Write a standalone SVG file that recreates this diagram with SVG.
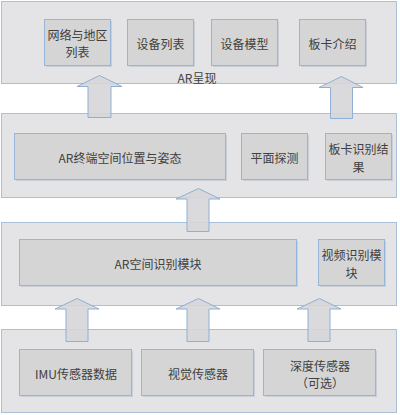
<svg xmlns="http://www.w3.org/2000/svg" width="400" height="415" viewBox="0 0 400 415">
<style>
.panel{fill:#e4e4e6;stroke:#a9c0da;stroke-width:1}
.box{fill:#d5d5d5;stroke:#95b5d9;stroke-width:1}
.shadow{fill:#c9cfd8}
.arrow{fill:#d6d6d8;fill-opacity:0.9;stroke:#8fb0d6;stroke-width:1}
text{font-family:"Noto Sans CJK SC","Liberation Sans",sans-serif;font-size:12px;fill:#404040;text-anchor:middle;dominant-baseline:central}
</style>
<rect width="400" height="415" fill="#ffffff"/>
<g id="panel-ar">
<rect class="panel" x="1.5" y="1.5" width="395" height="82"/>
<text x="197" y="77">AR呈现</text>
</g>
<g id="panel-pose">
<rect class="panel" x="1.5" y="113.5" width="395" height="84"/>
</g>
<g id="panel-recog">
<rect class="panel" x="1.5" y="222.5" width="395" height="83"/>
</g>
<g id="panel-sensor">
<rect class="panel" x="1.5" y="329.5" width="395" height="83"/>
</g>
<g id="n-region">
<rect class="shadow" x="46" y="21" width="66" height="46"/>
<rect class="box" x="44.5" y="19.5" width="66" height="46"/>
<text x="77.5" y="34">网络与地区</text>
<text x="77.5" y="51">列表</text>
</g>
<g id="n-devlist">
<rect class="shadow" x="129" y="21" width="66" height="46"/>
<rect class="box" x="127.5" y="19.5" width="66" height="46"/>
<text x="160.5" y="43">设备列表</text>
</g>
<g id="n-devmodel">
<rect class="shadow" x="213" y="21" width="66" height="46"/>
<rect class="box" x="211.5" y="19.5" width="66" height="46"/>
<text x="244.5" y="43">设备模型</text>
</g>
<g id="n-card">
<rect class="shadow" x="301" y="21" width="66" height="46"/>
<rect class="box" x="299.5" y="19.5" width="66" height="46"/>
<text x="332.5" y="43">板卡介绍</text>
</g>
<g id="n-pose">
<rect class="shadow" x="16" y="135" width="211" height="46"/>
<rect class="box" x="14.5" y="133.5" width="211" height="46"/>
<text x="120" y="157">AR终端空间位置与姿态</text>
</g>
<g id="n-plane">
<rect class="shadow" x="243" y="135" width="66" height="46"/>
<rect class="box" x="241.5" y="133.5" width="66" height="46"/>
<text x="274.5" y="157">平面探测</text>
</g>
<g id="n-cardres">
<rect class="shadow" x="327" y="135" width="66" height="46"/>
<rect class="box" x="325.5" y="133.5" width="66" height="46"/>
<text x="358.5" y="148">板卡识别结</text>
<text x="358.5" y="166">果</text>
</g>
<g id="n-arspace">
<rect class="shadow" x="21" y="241" width="277" height="46"/>
<rect class="box" x="19.5" y="239.5" width="277" height="46"/>
<text x="158" y="263">AR空间识别模块</text>
</g>
<g id="n-video">
<rect class="shadow" x="320" y="241" width="66" height="46"/>
<rect class="box" x="318.5" y="239.5" width="66" height="46"/>
<text x="351.5" y="254">视频识别模</text>
<text x="351.5" y="272">块</text>
</g>
<g id="n-imu">
<rect class="shadow" x="21" y="351" width="112" height="46"/>
<rect class="box" x="19.5" y="349.5" width="112" height="46"/>
<text x="76" y="373">IMU传感器数据</text>
</g>
<g id="n-vision">
<rect class="shadow" x="143" y="351" width="112" height="46"/>
<rect class="box" x="141.5" y="349.5" width="112" height="46"/>
<text x="198" y="373">视觉传感器</text>
</g>
<g id="n-depth">
<rect class="shadow" x="265" y="351" width="112" height="46"/>
<rect class="box" x="263.5" y="349.5" width="112" height="46"/>
<text x="320" y="365">深度传感器</text>
<text x="320" y="382">（可选）</text>
</g>
<g id="connectors">
<polygon class="arrow" points="99.5,75.5 122,86.5 111,86.5 111,117.5 88,117.5 88,86.5 77,86.5"/>
<polygon class="arrow" points="341.5,76.5 363,87.5 352.5,87.5 352.5,118.5 330.5,118.5 330.5,87.5 319,87.5"/>
<polygon class="arrow" points="198.5,188.5 220,199 209,199 209,231.5 187,231.5 187,199 176,199"/>
<polygon class="arrow" points="77,298.5 99,309 88,309 88,341.5 66,341.5 66,309 55,309"/>
<polygon class="arrow" points="198.5,298.5 220,309 209,309 209,341.5 187,341.5 187,309 176,309"/>
<polygon class="arrow" points="319.5,298.5 341,309 330,309 330,341.5 308,341.5 308,309 297,309"/>
</g>
</svg>
